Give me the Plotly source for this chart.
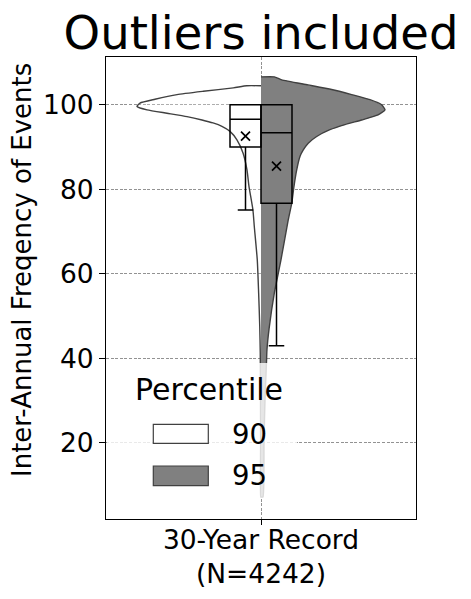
import plotly.graph_objects as go

# ---------------- data ----------------
category_label = "30-Year Record<br>(N=4242)"
percentiles = ["90", "95"]

# violin outlines: value levels and relative density (peak = 1)
y90 = [104.5, 104.0, 103.2, 102.4, 101.3, 100.4, 99.6, 98.8, 98.0, 97.2, 96.4, 95.7,
       94.9, 93.7, 91.7, 88.6, 84.6, 80.7, 75.1, 71.2, 63.3, 55.5, 47.5, 41.3, 30.0, 20.0, 7.2]
d90 = [0.115, 0.223, 0.465, 0.677, 0.855, 0.976, 1.0, 0.919, 0.758, 0.597, 0.476, 0.387,
       0.315, 0.25, 0.194, 0.145, 0.113, 0.097, 0.065, 0.054, 0.030, 0.019, 0.010, 0.006,
       0.004, 0.003, 0.0025]

y95 = [106.6, 105.9, 104.7, 103.6, 102.4, 101.2, 100.0, 98.8, 97.6, 96.4, 95.3, 94.1,
       92.5, 90.9, 89.3, 87.8, 84.6, 80.7, 76.7, 72.8, 63.3, 55.4, 47.0, 42.0, 38.9,
       30.0, 20.0, 7.2]
d95 = [0.107, 0.167, 0.379, 0.570, 0.731, 0.879, 0.973, 1.0, 0.944, 0.812, 0.677, 0.556,
       0.449, 0.381, 0.341, 0.315, 0.288, 0.266, 0.248, 0.220, 0.161, 0.107, 0.065, 0.048,
       0.044, 0.032, 0.024, 0.016]

# box statistics
q1 = [90.0, 76.7]
median = [96.6, 93.4]
q3 = [100.0, 100.0]
lowerfence = [75.1, 43.0]
upperfence = [100.0, 100.0]
means = [92.6, 85.5]

y_ticks = [20, 40, 60, 80, 100]

# ---------------- styles ----------------
FONT = "DejaVu Sans"
HALF_W = 0.4          # max half-width of each violin half
BOX_W = 0.1
fills = ["rgba(255,255,255,0.25)", "#808080"]
edge = "#404040"
OFF = 8               # page body margin of the html page

fig = go.Figure()

# violin halves (left: 90, right: 95)
for k, (yy, dd) in enumerate([(y90, d90), (y95, d95)]):
    sgn = -1 if k == 0 else 1
    xs = [0.0] + [sgn * HALF_W * d for d in dd] + [0.0]
    ys = [yy[0]] + yy + [yy[-1]]
    fig.add_trace(go.Scatter(
        x=xs, y=ys, mode="lines", fill="toself", fillcolor=fills[k],
        line=dict(color=edge, width=1.4, shape="spline", smoothing=0.5),
        showlegend=False, hoverinfo="skip", xaxis="x", yaxis="y"))

# boxes on an overlaid subplot so they sit above the violins
box_pos = [-BOX_W / 2, BOX_W / 2]
for k in range(2):
    fig.add_trace(go.Box(
        x=[box_pos[k]], q1=[q1[k]], median=[median[k]], q3=[q3[k]],
        lowerfence=[lowerfence[k]], upperfence=[upperfence[k]], mean=[means[k]],
        boxmean=False, width=BOX_W, whiskerwidth=0.5, boxpoints=False,
        fillcolor="rgba(0,0,0,0)", line=dict(color="black", width=1.5),
        showlegend=False, hoverinfo="skip", xaxis="x2", yaxis="y2"))

fig.add_trace(go.Scatter(
    x=box_pos, y=means, mode="markers",
    marker=dict(symbol="x-thin", size=9, line=dict(color="black", width=1.7)),
    showlegend=False, hoverinfo="skip", xaxis="x2", yaxis="y2"))

XR = [-0.5, 0.5]
YR = [2.0, 111.3]
grid = dict(showgrid=True, gridcolor="rgba(110,110,110,0.75)", gridwidth=0.8,
            griddash="3px,1.6px")

W, H = 471 - 2 * OFF, 599 - 2 * OFF
fig.update_layout(
    width=W, height=H,
    margin=dict(l=106 - OFF, r=47, t=57 - OFF, b=72, autoexpand=False),
    paper_bgcolor="white", plot_bgcolor="white",
    font=dict(family=FONT, color="black", size=26),
    boxmode="overlay",
    showlegend=False,
    title=dict(text="Outliers included", x=0.5, xref="paper", xanchor="center",
               y=1 - (33 - OFF) / H, yref="container", yanchor="middle",
               font=dict(family=FONT, size=46.5, color="black")),
    xaxis=dict(range=XR, tickvals=[0], ticktext=[category_label],
               ticks="outside", ticklen=5, tickwidth=1, tickcolor="black",
               showline=True, linecolor="black", linewidth=1, mirror=True,
               zeroline=False, tickfont=dict(size=26.5), automargin=False,
               ticklabelstandoff=-8, **grid),
    yaxis=dict(range=YR, tickvals=y_ticks, ticks="outside", ticklen=6, tickwidth=1,
               tickcolor="black", showline=True, linecolor="black", linewidth=1,
               mirror=True, zeroline=False, tickfont=dict(size=26.5), automargin=False,
               **grid),
    xaxis2=dict(range=XR, overlaying="x", visible=False, showgrid=False, zeroline=False),
    yaxis2=dict(range=YR, overlaying="y", visible=False, showgrid=False, zeroline=False),
)

# pixel (in the reference page) -> paper coordinates of the plot area
def px_x(p):
    return (p - 106) / 310

def px_y(p):
    return (519 - p) / 462

# y-axis label
fig.add_annotation(text="Inter-Annual Freqency of Events", textangle=-90,
                   xref="paper", yref="paper", x=px_x(22), y=px_y(270),
                   xanchor="center", yanchor="middle", showarrow=False,
                   font=dict(family=FONT, size=26))

# legend (semi-transparent frame, title, swatches, labels)
fig.add_shape(type="rect", xref="paper", yref="paper", layer="above",
              x0=px_x(107), x1=px_x(297), y0=px_y(498), y1=px_y(363),
              fillcolor="rgba(255,255,255,0.8)", line=dict(width=0))
fig.add_annotation(text="Percentile", xref="paper", yref="paper",
                   x=px_x(209), y=px_y(389), xanchor="center", yanchor="middle",
                   showarrow=False, font=dict(family=FONT, size=30))
sw_y = [(424.3, 443.3), (466, 485.7)]
lab_y = [433.7, 475.3]
sw_fill = ["white", "#808080"]
for k, lab in enumerate(percentiles):
    fig.add_shape(type="rect", xref="paper", yref="paper", layer="above",
                  x0=px_x(153.3), x1=px_x(208.3), y0=px_y(sw_y[k][1]), y1=px_y(sw_y[k][0]),
                  fillcolor=sw_fill[k], line=dict(color=edge, width=1.2))
    fig.add_annotation(text=lab, xref="paper", yref="paper",
                       x=px_x(230), y=px_y(lab_y[k]), xanchor="left", yanchor="middle",
                       showarrow=False, font=dict(family=FONT, size=27.5))

fig.write_html("out.html")
